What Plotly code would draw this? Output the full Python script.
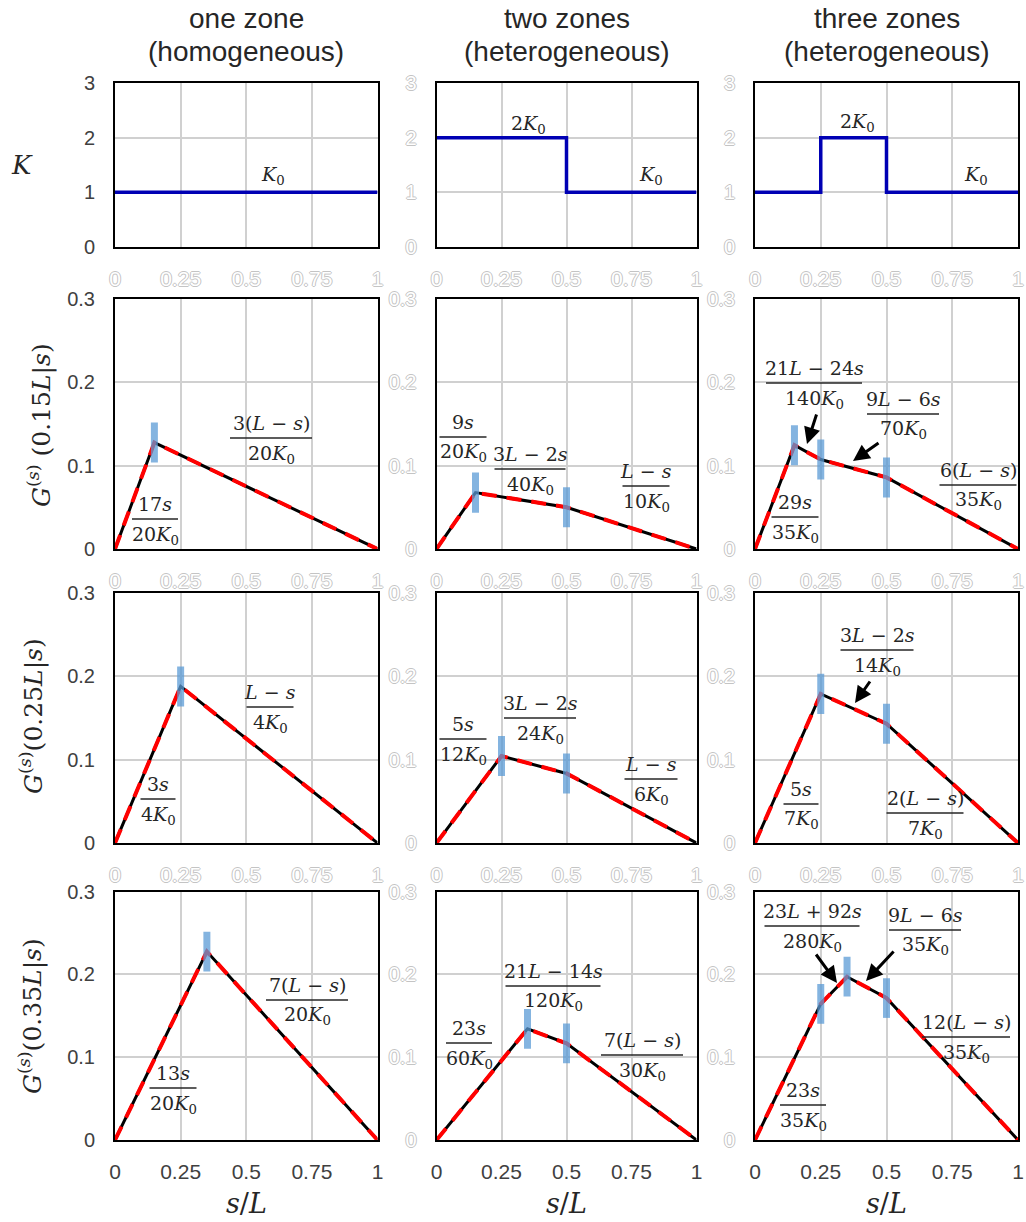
import plotly.graph_objects as go

W, H = 1026, 1222

# ---------------- data ----------------
col_titles = [["one zone", "(homogeneous)"], ["two zones", "(heterogeneous)"], ["three zones", "(heterogeneous)"]]
x_ticks = [0, 0.25, 0.5, 0.75, 1]
x_ticklabels = ["0", "0.25", "0.5", "0.75", "1"]
k_ticks = [0, 1, 2, 3]
g_ticks = [0, 0.1, 0.2, 0.3]
g_ticklabels = ["0", "0.1", "0.2", "0.3"]

# conductivity profiles K/K0
s_K_one = [0, 1]
K_one = [1, 1]
s_K_two = [0, 0.5, 0.5, 1]
K_two = [2, 2, 1, 1]
s_K_three = [0, 0.25, 0.25, 0.5, 0.5, 1]
K_three = [1, 1, 2, 2, 1, 1]

# Green's functions (nodes)
s_G15_one = [0, 0.15, 1]
G15_one = [0, 0.1275, 0]
s_G15_two = [0, 0.15, 0.5, 1]
G15_two = [0, 0.0675, 0.05, 0]
s_G15_three = [0, 0.15, 0.25, 0.5, 1]
G15_three = [0, 0.1243, 0.1071, 0.0857, 0]

s_G25_one = [0, 0.25, 1]
G25_one = [0, 0.1875, 0]
s_G25_two = [0, 0.25, 0.5, 1]
G25_two = [0, 0.1042, 0.0833, 0]
s_G25_three = [0, 0.25, 0.5, 1]
G25_three = [0, 0.1786, 0.1429, 0]

s_G35_one = [0, 0.35, 1]
G35_one = [0, 0.2275, 0]
s_G35_two = [0, 0.35, 0.5, 1]
G35_two = [0, 0.1342, 0.1167, 0]
s_G35_three = [0, 0.25, 0.35, 0.5, 1]
G35_three = [0, 0.1643, 0.1971, 0.1714, 0]

# blue markers (source point & zone interfaces)
m15_one_s, m15_one = [0.15], [0.1275]
m15_two_s, m15_two = [0.15, 0.5], [0.0675, 0.05]
m15_three_s, m15_three = [0.15, 0.25, 0.5], [0.1243, 0.1071, 0.0857]
m25_one_s, m25_one = [0.25], [0.1875]
m25_two_s, m25_two = [0.25, 0.5], [0.1042, 0.0833]
m25_three_s, m25_three = [0.25, 0.5], [0.1786, 0.1429]
m35_one_s, m35_one = [0.35], [0.2275]
m35_two_s, m35_two = [0.35, 0.5], [0.1342, 0.1167]
m35_three_s, m35_three = [0.25, 0.35, 0.5], [0.1643, 0.1971, 0.1714]
marker_half = 0.024

row_titles = ["<i>K</i>",
              "<i>G</i><sup>(<i>s</i>)</sup> (0.15<i>L</i>|<i>s</i>)",
              "<i>G</i><sup>(<i>s</i>)</sup>(0.25<i>L</i>|<i>s</i>)",
              "<i>G</i><sup>(<i>s</i>)</sup>(0.35<i>L</i>|<i>s</i>)"]

# ---------------- layout geometry (pixels) ----------------
col_px = [(115, 377.5), (436.5, 696.5), (755, 1018)]
row_px = [(83, 247), (298.5, 549), (592.5, 843), (891.5, 1140)]

def X(px):
    return px / W

def Y(py):
    return 1 - py / H

fig = go.Figure()

DARK = "#404040"
GHOST = dict(family="Liberation Sans", size=21, color="white",
             shadow="1px 0 0 #c4c4c4, -1px 0 0 #c4c4c4, 0 1px 0 #c4c4c4, 0 -1px 0 #c4c4c4")
DARKF = dict(family="Liberation Sans", size=21, color=DARK)
SERIF = "DejaVu Serif"
TXT = "#262626"

layout = dict(width=W, height=H, margin=dict(l=0, r=0, t=0, b=0, autoexpand=False),
              paper_bgcolor="white", plot_bgcolor="white", showlegend=False)

K_data = [(s_K_one, K_one), (s_K_two, K_two), (s_K_three, K_three)]
G_data = [
    [(s_G15_one, G15_one, m15_one_s, m15_one), (s_G15_two, G15_two, m15_two_s, m15_two), (s_G15_three, G15_three, m15_three_s, m15_three)],
    [(s_G25_one, G25_one, m25_one_s, m25_one), (s_G25_two, G25_two, m25_two_s, m25_two), (s_G25_three, G25_three, m25_three_s, m25_three)],
    [(s_G35_one, G35_one, m35_one_s, m35_one), (s_G35_two, G35_two, m35_two_s, m35_two), (s_G35_three, G35_three, m35_three_s, m35_three)],
]

idx = 0
for r in range(4):
    for c in range(3):
        idx += 1
        xa = "xaxis" if idx == 1 else f"xaxis{idx}"
        ya = "yaxis" if idx == 1 else f"yaxis{idx}"
        xr = "x" if idx == 1 else f"x{idx}"
        yr = "y" if idx == 1 else f"y{idx}"
        layout[xa] = dict(domain=[X(col_px[c][0]), X(col_px[c][1])], anchor=yr,
                          range=[0, 1], tickvals=x_ticks, ticktext=x_ticklabels,
                          showgrid=True, gridcolor="#d0d0d0", gridwidth=2,
                          showline=True, mirror=True, linecolor="black", linewidth=2,
                          zeroline=False, ticks="outside", ticklen=12, tickcolor="rgba(0,0,0,0)",
                          tickfont=DARKF if r == 3 else GHOST)
        if r == 0:
            yk = dict(range=[0, 3], tickvals=k_ticks, ticktext=[str(v) for v in k_ticks])
        else:
            yk = dict(range=[0, 0.3], tickvals=g_ticks, ticktext=g_ticklabels)
        layout[ya] = dict(domain=[Y(row_px[r][1]), Y(row_px[r][0])], anchor=xr,
                          showgrid=True, gridcolor="#d0d0d0", gridwidth=2,
                          showline=True, mirror=True, linecolor="black", linewidth=2,
                          zeroline=False, ticks="outside", ticklen=14, tickcolor="rgba(0,0,0,0)",
                          tickfont=dict(family="Liberation Sans", size=20, color=DARK) if c == 0 else dict(GHOST, size=20),
                          **yk)
        if r == 0:
            sx, sy = K_data[c]
            fig.add_trace(go.Scatter(x=sx, y=sy, mode="lines", xaxis=xr, yaxis=yr,
                                     line=dict(color="#0000b4", width=3.5), hoverinfo="skip"))
        else:
            sx, sy, mx, my = G_data[r - 1][c]
            fig.add_trace(go.Scatter(x=sx, y=sy, mode="lines", xaxis=xr, yaxis=yr,
                                     line=dict(color="black", width=3), hoverinfo="skip"))
            fig.add_trace(go.Scatter(x=sx, y=sy, mode="lines", xaxis=xr, yaxis=yr,
                                     line=dict(color="#ff0000", width=4, dash="15px,10px"), hoverinfo="skip"))
            fig.add_trace(go.Scatter(x=mx, y=my, mode="markers", xaxis=xr, yaxis=yr,
                                     marker=dict(size=1, color="rgba(0,0,0,0)"),
                                     error_y=dict(type="data", array=[marker_half] * len(mx), symmetric=True,
                                                  thickness=7, width=0, color="rgba(91,155,213,0.75)"),
                                     hoverinfo="skip"))

annotations = []
shapes = []

# column titles
col_cx = [246, 566.5, 886.5]
for c in range(3):
    for i, t in enumerate(col_titles[c]):
        annotations.append(dict(x=X(col_cx[c]), y=Y(18 + 33 * i), xref="paper", yref="paper",
                                text=t, showarrow=False, xanchor="center", yanchor="middle",
                                font=dict(family="Liberation Sans", size=28, color=TXT)))
    annotations.append(dict(x=X(col_cx[c]), y=Y(1203), xref="paper", yref="paper",
                            text="<i>s</i>/<i>L</i>", showarrow=False, xanchor="center", yanchor="middle",
                            font=dict(family=SERIF, size=27, color=TXT)))

# row titles
annotations.append(dict(x=X(22), y=Y(165), xref="paper", yref="paper", text=row_titles[0],
                        showarrow=False, xanchor="center", yanchor="middle",
                        font=dict(family=SERIF, size=26, color=TXT)))
row_title_pos = [(40, 425), (32, 716), (31, 1016)]
for i, (px, py) in enumerate(row_title_pos):
    annotations.append(dict(x=X(px), y=Y(py), xref="paper", yref="paper", text=row_titles[i + 1],
                            showarrow=False, textangle=-90, xanchor="center", yanchor="middle",
                            font=dict(family=SERIF, size=25, color=TXT)))

def label(cx, cy, text, size=19):
    annotations.append(dict(x=X(cx), y=Y(cy), xref="paper", yref="paper", text=text,
                            showarrow=False, xanchor="center", yanchor="middle",
                            font=dict(family=SERIF, size=size, color=TXT)))

def frac(cx, by, w, num, den, size=19):
    label(cx, by - 15, num, size)
    label(cx, by + 16, den, size)
    shapes.append(dict(type="line", xref="paper", yref="paper",
                       x0=X(cx - w / 2), x1=X(cx + w / 2), y0=Y(by), y1=Y(by),
                       line=dict(color=TXT, width=1.3)))

def arrow(tx, ty, hx, hy):
    annotations.append(dict(x=X(hx), y=Y(hy), xref="paper", yref="paper", text="",
                            showarrow=True, ax=tx - hx, ay=ty - hy, arrowhead=2,
                            arrowsize=1.1, arrowwidth=3, arrowcolor="black"))

K0 = "<i>K</i><sub>0</sub>"
s_ = "<i>s</i>"
L_ = "<i>L</i>"

# row 1 labels
label(273, 176, K0)
label(528, 124, "2" + K0)
label(651, 176, K0)
label(857, 123, "2" + K0)
label(976, 176, K0)

# row 2
frac(271, 438, 82, "3(" + L_ + " − " + s_ + ")", "20" + K0)
frac(155, 519, 46, "17" + s_, "20" + K0)
frac(463, 437, 47, "9" + s_, "20" + K0)
frac(530, 469, 71, "3" + L_ + " − 2" + s_, "40" + K0)
frac(646, 486, 47, L_ + " − " + s_, "10" + K0)
frac(814, 383, 96, "21" + L_ + " − 24" + s_, "140" + K0)
frac(903, 414, 72, "9" + L_ + " − 6" + s_, "70" + K0)
frac(978, 485, 77, "6(" + L_ + " − " + s_ + ")", "35" + K0)
frac(795, 517, 47, "29" + s_, "35" + K0)
arrow(817, 413, 807, 444)
arrow(880, 442, 853, 461)

# row 3
frac(270, 707, 47, L_ + " − " + s_, "4" + K0)
frac(158, 799, 35, "3" + s_, "4" + K0)
frac(463, 739, 47, "5" + s_, "12" + K0)
frac(540, 718, 72, "3" + L_ + " − 2" + s_, "24" + K0)
frac(651, 779, 53, L_ + " − " + s_, "6" + K0)
frac(877, 650, 73, "3" + L_ + " − 2" + s_, "14" + K0)
frac(801, 804, 35, "5" + s_, "7" + K0)
frac(925, 813, 77, "2(" + L_ + " − " + s_ + ")", "7" + K0)
arrow(871, 680, 855, 703)

# row 4
frac(307, 1000, 82, "7(" + L_ + " − " + s_ + ")", "20" + K0)
frac(173, 1088, 47, "13" + s_, "20" + K0)
frac(553, 986, 95, "21" + L_ + " − 14" + s_, "120" + K0)
frac(469, 1043, 46, "23" + s_, "60" + K0)
frac(642, 1055, 82, "7(" + L_ + " − " + s_ + ")", "30" + K0)
frac(812, 926, 95, "23" + L_ + " + 92" + s_, "280" + K0)
frac(925, 930, 72, "9" + L_ + " − 6" + s_, "35" + K0)
frac(966, 1037, 88, "12(" + L_ + " − " + s_ + ")", "35" + K0)
frac(803, 1105, 46, "23" + s_, "35" + K0)
arrow(815, 953, 837, 983)
arrow(895, 950, 866, 981)

layout["annotations"] = annotations
layout["shapes"] = shapes
fig.update_layout(**layout)
fig.write_html("out.html",
               post_script="document.body.style.margin='0';document.body.style.padding='0';document.body.style.overflow='hidden';")
